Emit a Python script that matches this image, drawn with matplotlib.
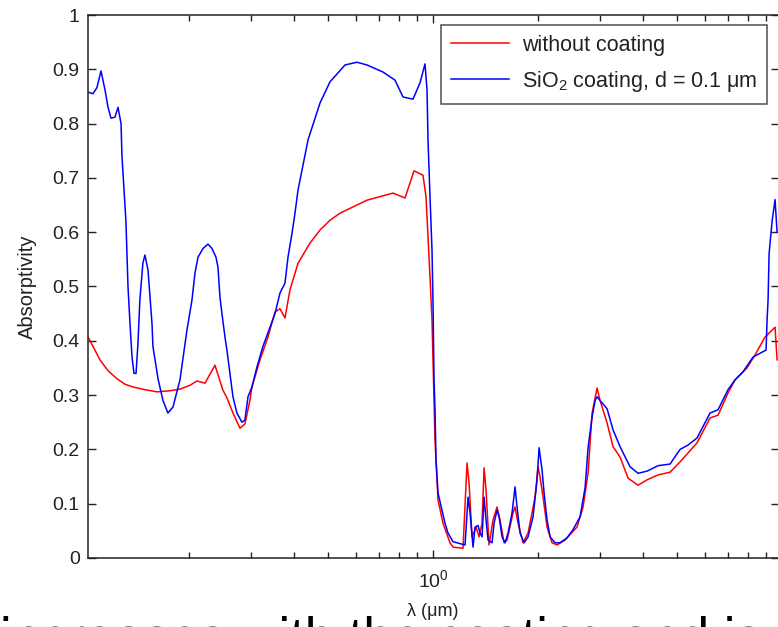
import matplotlib
matplotlib.use("Agg")
import matplotlib.pyplot as plt
from matplotlib.ticker import LogLocator, NullFormatter, FuncFormatter, MultipleLocator

plt.rcParams['font.family'] = ['Liberation Sans', 'DejaVu Sans']
plt.rcParams['mathtext.fontset'] = 'custom'
plt.rcParams['mathtext.rm'] = 'Liberation Sans'
plt.rcParams['mathtext.default'] = 'regular'

# wavelength (um) and absorptivity
lam_bare = [0.1027, 0.1061, 0.1111, 0.1172, 0.1244, 0.1311, 0.1381, 0.1495, 0.1619, 0.1764,
            0.1884, 0.2012, 0.2108, 0.2222, 0.2373, 0.2501, 0.2568, 0.2672, 0.2799, 0.2892,
            0.2990, 0.3029, 0.3194, 0.3367, 0.3526, 0.3644, 0.3766, 0.3893, 0.4105, 0.4442,
            0.4745, 0.5069, 0.5414, 0.6468, 0.7679, 0.8314, 0.8822, 0.9362, 0.9549, 0.9676,
            0.9804, 0.9934, 1.0133, 1.0335, 1.0682, 1.1186, 1.1410, 1.2189, 1.2517, 1.2683,
            1.2937, 1.3283, 1.3549, 1.3821, 1.4005, 1.4189, 1.4470, 1.4858, 1.5257, 1.5561,
            1.5978, 1.6297, 1.6955, 1.7180, 1.7520, 1.8111, 1.8719, 1.9604, 1.9996, 2.0262,
            2.0668, 2.1221, 2.1928, 2.2665, 2.3887, 2.5858, 2.6912, 2.7820, 2.8564, 2.9513,
            3.0103, 3.1518, 3.2794, 3.4344, 3.6208, 3.8676, 4.1045, 4.4128, 4.7761, 5.1024,
            5.7070, 6.2193, 6.5561, 7.0010, 7.3320, 7.9365, 8.3663, 8.9398, 9.5492, 9.6760]
abs_bare = [0.407, 0.390, 0.365, 0.345, 0.330, 0.320, 0.315, 0.310, 0.306, 0.308,
            0.311, 0.318, 0.326, 0.322, 0.355, 0.309, 0.295, 0.267, 0.239, 0.247,
            0.291, 0.315, 0.365, 0.407, 0.453, 0.459, 0.442, 0.494, 0.543, 0.580,
            0.604, 0.622, 0.635, 0.659, 0.672, 0.663, 0.713, 0.705, 0.665, 0.591,
            0.517, 0.438, 0.217, 0.107, 0.064, 0.028, 0.020, 0.018, 0.175, 0.138,
            0.039, 0.057, 0.039, 0.064, 0.166, 0.125, 0.024, 0.070, 0.094, 0.070,
            0.028, 0.033, 0.083, 0.094, 0.064, 0.028, 0.046, 0.112, 0.168, 0.149,
            0.112, 0.057, 0.028, 0.024, 0.033, 0.057, 0.094, 0.157, 0.267, 0.313,
            0.290, 0.249, 0.205, 0.186, 0.147, 0.134, 0.144, 0.153, 0.158, 0.177,
            0.212, 0.258, 0.263, 0.304, 0.328, 0.350, 0.374, 0.407, 0.425, 0.365]

lam_sio2 = [0.1027, 0.1061, 0.1089, 0.1119, 0.1149, 0.1172, 0.1195, 0.1227, 0.1252, 0.1277,
            0.1285, 0.1302, 0.1319, 0.1328, 0.1337, 0.1354, 0.1373, 0.1391, 0.1410, 0.1428,
            0.1446, 0.1475, 0.1495, 0.1526, 0.1546, 0.1567, 0.1576, 0.1630, 0.1684, 0.1740,
            0.1799, 0.1884, 0.1973, 0.2039, 0.2080, 0.2122, 0.2193, 0.2266, 0.2327, 0.2389,
            0.2420, 0.2453, 0.2485, 0.2535, 0.2568, 0.2620, 0.2672, 0.2743, 0.2835, 0.2892,
            0.2951, 0.3029, 0.3131, 0.3258, 0.3411, 0.3526, 0.3644, 0.3766, 0.3842, 0.3945,
            0.4023, 0.4105, 0.4159, 0.4385, 0.4745, 0.5069, 0.5597, 0.6056, 0.6468, 0.7188,
            0.7783, 0.8204, 0.8764, 0.9178, 0.9486, 0.9612, 0.9676, 0.9804, 0.9934, 1.0000,
            1.0066, 1.0133, 1.0200, 1.0335, 1.0612, 1.0823, 1.1040, 1.1410, 1.2353, 1.2600,
            1.2768, 1.3023, 1.3196, 1.3460, 1.3640, 1.3821, 1.4005, 1.4189, 1.4377, 1.4762,
            1.4958, 1.5257, 1.5460, 1.5769, 1.6084, 1.6406, 1.6844, 1.7180, 1.7408, 1.7756,
            1.8231, 1.8719, 1.9348, 1.9865, 2.0129, 2.0532, 2.0805, 2.1221, 2.1646, 2.2356,
            2.3106, 2.4198, 2.5176, 2.6389, 2.7275, 2.7820, 2.8564, 2.9136, 2.9513, 3.0103,
            3.1518, 3.2794, 3.4344, 3.6689, 3.8676, 4.1045, 4.4128, 4.7761, 5.1024, 5.3788,
            5.7070, 6.2193, 6.5561, 7.0010, 7.3320, 7.7296, 8.2566, 8.8227, 8.9988, 9.0584,
            9.1186, 9.1791, 9.3620, 9.5492, 9.6760]
abs_sio2 = [0.858, 0.855, 0.866, 0.897, 0.862, 0.830, 0.810, 0.812, 0.830, 0.800,
            0.740, 0.680, 0.620, 0.560, 0.500, 0.435, 0.370, 0.340, 0.340, 0.395,
            0.475, 0.543, 0.558, 0.530, 0.480, 0.430, 0.390, 0.330, 0.290, 0.267,
            0.278, 0.328, 0.420, 0.475, 0.525, 0.554, 0.570, 0.578, 0.570, 0.554,
            0.536, 0.480, 0.450, 0.407, 0.383, 0.340, 0.297, 0.267, 0.250, 0.254,
            0.297, 0.315, 0.352, 0.390, 0.425, 0.450, 0.488, 0.506, 0.554, 0.598,
            0.635, 0.678, 0.696, 0.770, 0.838, 0.877, 0.908, 0.913, 0.908, 0.895,
            0.880, 0.849, 0.845, 0.875, 0.910, 0.862, 0.770, 0.665, 0.567, 0.470,
            0.330, 0.273, 0.180, 0.120, 0.088, 0.064, 0.046, 0.030, 0.024, 0.112,
            0.083, 0.020, 0.057, 0.060, 0.046, 0.039, 0.112, 0.070, 0.033, 0.028,
            0.064, 0.088, 0.076, 0.039, 0.028, 0.046, 0.083, 0.131, 0.094, 0.046,
            0.028, 0.039, 0.076, 0.144, 0.203, 0.162, 0.120, 0.070, 0.039, 0.028,
            0.028, 0.037, 0.052, 0.076, 0.130, 0.204, 0.260, 0.290, 0.297, 0.290,
            0.275, 0.236, 0.205, 0.168, 0.156, 0.160, 0.170, 0.173, 0.200, 0.208,
            0.221, 0.267, 0.273, 0.310, 0.328, 0.343, 0.370, 0.380, 0.383, 0.438,
            0.475, 0.560, 0.620, 0.660, 0.600]

labels = ["without coating", "SiO$_2$ coating, d = 0.1 \u03bcm"]
xlim = (0.1027, 9.80)

fig = plt.figure(figsize=(7.78, 6.27), dpi=100)
ax = fig.add_axes([88 / 778, 1 - 558 / 627, 691 / 778, 543 / 627])

ax.plot(lam_bare, abs_bare, color="#ff0000", lw=1.1, label=labels[0])
ax.plot(lam_sio2, abs_sio2, color="#0000ff", lw=1.1, label=labels[1])

ax.set_xscale("log")
ax.set_xlim(*xlim)
ax.set_ylim(0, 1)
ax.yaxis.set_major_locator(MultipleLocator(0.1))
ax.yaxis.set_major_formatter(FuncFormatter(lambda v, p: f"{v:g}"))
ax.xaxis.set_minor_locator(LogLocator(base=10, subs=range(2, 10)))
ax.xaxis.set_minor_formatter(NullFormatter())

for s in ax.spines.values():
    s.set_linewidth(1.1)
    s.set_color("#222222")
ax.tick_params(which="both", direction="in", top=True, right=True,
               colors="#222222", width=1.0, labelsize=14)
ax.tick_params(which="major", length=6)
ax.tick_params(which="minor", length=4)
ax.tick_params(axis="x", pad=8)
ax.tick_params(axis="y", pad=6)

ax.set_ylabel("Absorptivity", fontsize=14.5, color="#222222")
ax.yaxis.set_label_coords(-0.074, 0.5)
ax.set_xlabel("\u03bb (\u03bcm)", fontsize=13, color="#222222")
ax.xaxis.set_label_coords(0.499, -0.083)

leg = ax.legend(loc="upper right", bbox_to_anchor=(767 / 778, 1 - 25 / 627),
                bbox_transform=fig.transFigure, fontsize=15.5, frameon=True,
                fancybox=False, edgecolor="#222222", handlelength=2.7,
                handletextpad=0.6, borderpad=0.46, labelspacing=0.6,
                borderaxespad=0)
leg.get_frame().set_linewidth(1.1)
for t in leg.get_texts():
    t.set_color("#222222")

# caption line of the slide, cut by the screenshot edge
fig.text(0.0, -0.045, "increases with the coating and is stable if",
         fontsize=38, color="black", ha="left", va="baseline")

fig.savefig("out.png", dpi=100)
